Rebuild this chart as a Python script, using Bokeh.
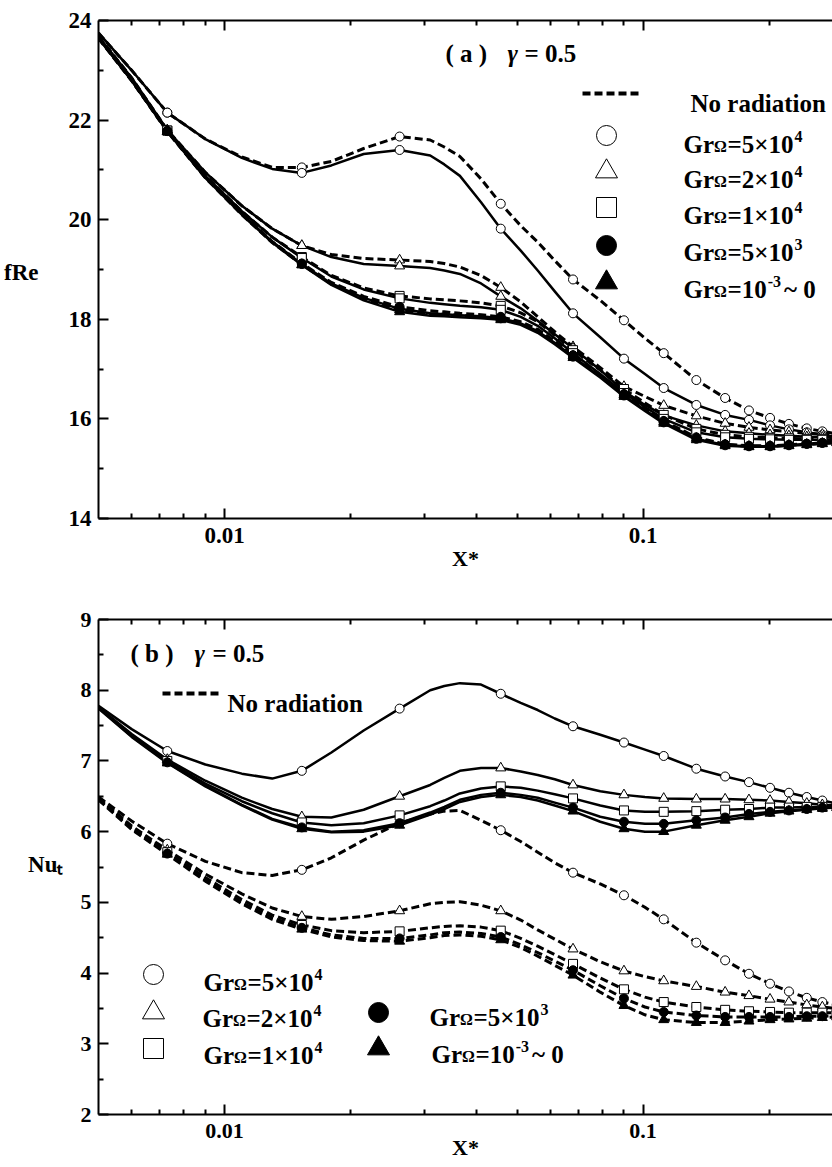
import math
from bokeh.plotting import figure
from bokeh.models import (Range1d, FixedTicker, LogAxis, LinearAxis, Label, ColumnDataSource,
                          PrintfTickFormatter)
from bokeh.layouts import column
from bokeh.embed import file_html
from bokeh.resources import INLINE

FONT = "Liberation Serif"

# ---------------- data ----------------
x_grid = [0.0050, 0.0060, 0.0073, 0.0090, 0.0110, 0.0130, 0.0153, 0.0180, 0.0215,
          0.0262, 0.0310, 0.0335, 0.0365, 0.0410, 0.0457, 0.0510, 0.0560, 0.0615,
          0.0680, 0.0790, 0.0900, 0.1010, 0.1120, 0.1340, 0.1570, 0.1790, 0.2010,
          0.2230, 0.2460, 0.2680, 0.2900]
marker_idx = [2, 6, 9, 14, 18, 20, 22, 23, 24, 25, 26, 27, 28, 29, 30]

x_ticks = [0.01, 0.1]
x_minor = [0.006, 0.007, 0.008, 0.009, 0.02, 0.03, 0.04, 0.05, 0.06, 0.07, 0.08, 0.09, 0.2]
fre_ticks = [14, 16, 18, 20, 22, 24]
fre_minor = [15, 17, 19, 21, 23]
nu_ticks = [2, 3, 4, 5, 6, 7, 8, 9]
nu_minor = [2.5, 3.5, 4.5, 5.5, 6.5, 7.5, 8.5]

# (a) fRe: with radiation (solid) / no radiation (dashed)
fre_rad_5e4 = [23.75, 23.00, 22.15, 21.62, 21.24, 21.02, 20.94, 21.09, 21.32, 21.40, 21.29, 21.11, 20.88, 20.35, 19.82, 19.38, 18.98, 18.56, 18.12, 17.64, 17.21, 16.90, 16.62, 16.28, 16.08, 15.98, 15.87, 15.79, 15.73, 15.68, 15.64]
fre_nor_5e4 = [23.75, 23.00, 22.15, 21.62, 21.26, 21.05, 21.05, 21.17, 21.43, 21.67, 21.60, 21.46, 21.27, 20.82, 20.32, 19.88, 19.55, 19.18, 18.80, 18.38, 17.98, 17.62, 17.32, 16.78, 16.42, 16.17, 16.02, 15.90, 15.81, 15.75, 15.70]
fre_rad_2e4 = [23.68, 22.85, 21.80, 20.95, 20.28, 19.82, 19.48, 19.25, 19.11, 19.07, 19.03, 18.98, 18.91, 18.72, 18.46, 18.22, 17.97, 17.70, 17.42, 16.98, 16.56, 16.28, 16.07, 15.87, 15.75, 15.71, 15.68, 15.66, 15.64, 15.63, 15.62]
fre_nor_2e4 = [23.68, 22.85, 21.80, 20.95, 20.28, 19.82, 19.48, 19.30, 19.22, 19.19, 19.16, 19.12, 19.05, 18.88, 18.64, 18.35, 18.05, 17.75, 17.45, 17.03, 16.65, 16.45, 16.27, 16.06, 15.91, 15.83, 15.78, 15.74, 15.71, 15.69, 15.68]
fre_rad_1e4 = [23.66, 22.82, 21.79, 20.88, 20.17, 19.65, 19.23, 18.86, 18.60, 18.42, 18.33, 18.30, 18.27, 18.24, 18.19, 18.05, 17.87, 17.62, 17.32, 16.90, 16.52, 16.24, 16.00, 15.73, 15.63, 15.60, 15.59, 15.58, 15.58, 15.58, 15.58]
fre_nor_1e4 = [23.66, 22.82, 21.79, 20.88, 20.17, 19.65, 19.25, 18.88, 18.63, 18.47, 18.41, 18.39, 18.37, 18.33, 18.27, 18.13, 17.95, 17.68, 17.38, 16.98, 16.60, 16.32, 16.08, 15.80, 15.68, 15.64, 15.62, 15.61, 15.60, 15.60, 15.60]
fre_rad_5e3 = [23.65, 22.80, 21.78, 20.85, 20.12, 19.56, 19.11, 18.72, 18.43, 18.21, 18.12, 18.10, 18.08, 18.06, 18.02, 17.92, 17.76, 17.53, 17.25, 16.85, 16.47, 16.18, 15.93, 15.60, 15.47, 15.45, 15.45, 15.47, 15.50, 15.52, 15.54]
fre_nor_5e3 = [23.65, 22.80, 21.78, 20.85, 20.12, 19.56, 19.12, 18.74, 18.46, 18.25, 18.17, 18.15, 18.12, 18.09, 18.05, 17.95, 17.80, 17.56, 17.28, 16.88, 16.50, 16.21, 15.96, 15.63, 15.49, 15.46, 15.46, 15.48, 15.50, 15.52, 15.54]
fre_rad_1e3 = [23.64, 22.79, 21.77, 20.84, 20.10, 19.54, 19.09, 18.69, 18.38, 18.15, 18.07, 18.06, 18.04, 18.02, 17.99, 17.89, 17.73, 17.50, 17.23, 16.83, 16.45, 16.16, 15.91, 15.58, 15.46, 15.44, 15.44, 15.46, 15.48, 15.50, 15.52]
fre_nor_1e3 = [23.64, 22.79, 21.77, 20.84, 20.10, 19.54, 19.10, 18.71, 18.41, 18.19, 18.11, 18.10, 18.08, 18.05, 18.02, 17.92, 17.77, 17.53, 17.26, 16.86, 16.48, 16.19, 15.94, 15.61, 15.48, 15.45, 15.45, 15.47, 15.49, 15.51, 15.53]

# (b) Nu_t
nu_rad_5e4 = [7.78, 7.45, 7.14, 6.95, 6.82, 6.75, 6.86, 7.12, 7.43, 7.74, 8.00, 8.06, 8.10, 8.08, 7.95, 7.82, 7.72, 7.60, 7.49, 7.37, 7.26, 7.16, 7.07, 6.89, 6.78, 6.70, 6.62, 6.55, 6.49, 6.44, 6.40]
nu_rad_2e4 = [7.76, 7.38, 7.02, 6.72, 6.48, 6.32, 6.21, 6.20, 6.31, 6.50, 6.66, 6.76, 6.86, 6.90, 6.90, 6.85, 6.80, 6.74, 6.66, 6.57, 6.52, 6.49, 6.47, 6.46, 6.46, 6.45, 6.44, 6.42, 6.40, 6.38, 6.37]
nu_rad_1e4 = [7.75, 7.36, 7.00, 6.68, 6.43, 6.26, 6.13, 6.09, 6.12, 6.23, 6.36, 6.44, 6.54, 6.61, 6.64, 6.62, 6.58, 6.53, 6.47, 6.37, 6.30, 6.28, 6.28, 6.29, 6.31, 6.32, 6.34, 6.34, 6.35, 6.35, 6.36]
nu_rad_5e3 = [7.75, 7.35, 6.98, 6.65, 6.38, 6.18, 6.06, 6.00, 6.02, 6.12, 6.27, 6.35, 6.45, 6.52, 6.55, 6.52, 6.48, 6.41, 6.34, 6.21, 6.14, 6.11, 6.11, 6.16, 6.20, 6.25, 6.28, 6.30, 6.32, 6.34, 6.35]
nu_rad_1e3 = [7.74, 7.34, 6.97, 6.64, 6.37, 6.17, 6.04, 5.99, 6.00, 6.09, 6.24, 6.32, 6.42, 6.49, 6.52, 6.49, 6.44, 6.37, 6.29, 6.14, 6.04, 6.00, 6.00, 6.09, 6.16, 6.21, 6.26, 6.29, 6.31, 6.33, 6.34]
nu_nor_5e4 = [6.49, 6.15, 5.83, 5.58, 5.42, 5.38, 5.46, 5.63, 5.88, 6.12, 6.25, 6.29, 6.30, 6.16, 6.02, 5.86, 5.71, 5.56, 5.42, 5.26, 5.10, 4.93, 4.76, 4.43, 4.18, 3.99, 3.85, 3.74, 3.65, 3.59, 3.55]
nu_nor_2e4 = [6.48, 6.08, 5.74, 5.40, 5.12, 4.92, 4.80, 4.76, 4.80, 4.88, 4.98, 5.00, 5.01, 4.96, 4.88, 4.75, 4.61, 4.48, 4.34, 4.16, 4.03, 3.95, 3.89, 3.81, 3.73, 3.68, 3.63, 3.59, 3.55, 3.52, 3.50]
nu_nor_1e4 = [6.47, 6.06, 5.71, 5.35, 5.04, 4.82, 4.68, 4.60, 4.57, 4.59, 4.64, 4.66, 4.67, 4.65, 4.60, 4.49, 4.38, 4.26, 4.13, 3.93, 3.77, 3.66, 3.59, 3.52, 3.48, 3.46, 3.45, 3.44, 3.44, 3.44, 3.44]
nu_nor_5e3 = [6.46, 6.04, 5.69, 5.32, 5.00, 4.78, 4.64, 4.54, 4.49, 4.49, 4.54, 4.57, 4.58, 4.56, 4.51, 4.40, 4.29, 4.17, 4.04, 3.82, 3.64, 3.52, 3.45, 3.40, 3.38, 3.38, 3.38, 3.38, 3.39, 3.39, 3.40]
nu_nor_1e3 = [6.45, 6.03, 5.68, 5.30, 4.98, 4.76, 4.62, 4.51, 4.46, 4.45, 4.50, 4.53, 4.54, 4.52, 4.47, 4.36, 4.24, 4.11, 3.97, 3.73, 3.54, 3.41, 3.34, 3.30, 3.30, 3.32, 3.34, 3.35, 3.36, 3.37, 3.38]

# case styles: (marker, filled)
case_style = {
    "5e4": ("circle", False),
    "2e4": ("triangle", False),
    "1e4": ("square", False),
    "5e3": ("circle", True),
    "1e-3": ("triangle", True),
}
fre_series = {"5e4": (fre_rad_5e4, fre_nor_5e4), "2e4": (fre_rad_2e4, fre_nor_2e4),
              "1e4": (fre_rad_1e4, fre_nor_1e4), "5e3": (fre_rad_5e3, fre_nor_5e3),
              "1e-3": (fre_rad_1e3, fre_nor_1e3)}
nu_series = {"5e4": (nu_rad_5e4, nu_nor_5e4), "2e4": (nu_rad_2e4, nu_nor_2e4),
             "1e4": (nu_rad_1e4, nu_nor_1e4), "5e3": (nu_rad_5e3, nu_nor_5e3),
             "1e-3": (nu_rad_1e3, nu_nor_1e3)}

# ---------------- layout helpers ----------------
X_LO, X_HI = 0.005, 0.2834
FRAME_L, DEC_PX = 98, 418.6
W = 832


def px_x(px):
    return 10 ** (math.log10(X_LO) + (px - FRAME_L) / DEC_PX)


def style_axis(ax):
    ax.axis_line_width = 2
    ax.axis_line_color = "black"
    ax.major_tick_in = 10
    ax.major_tick_out = 0
    ax.minor_tick_in = 5
    ax.minor_tick_out = 0
    ax.major_tick_line_width = 2
    ax.minor_tick_line_width = 2
    ax.major_tick_line_color = "black"
    ax.minor_tick_line_color = "black"
    ax.major_label_text_font = FONT
    ax.major_label_text_font_style = "bold"
    ax.major_label_text_color = "black"


def make_fig(height, top, bottom, ylo, yhi, yticks, yminor, tick_size,
             xlabel_standoff, ylabel_text, ylabel_pos, ylabel_standoff):
    p = figure(width=W, height=height, x_axis_type="log",
               x_range=Range1d(X_LO, X_HI), y_range=Range1d(ylo, yhi),
               output_backend="svg", toolbar_location=None,
               min_border_left=FRAME_L, min_border_right=0,
               min_border_top=top, min_border_bottom=bottom)
    p.outline_line_color = None
    p.xgrid.visible = False
    p.ygrid.visible = False
    p.background_fill_color = "white"
    p.border_fill_color = "white"
    xa = p.xaxis[0]
    ya = p.yaxis[0]
    xa.ticker = FixedTicker(ticks=x_ticks, minor_ticks=x_minor)
    xa.formatter = PrintfTickFormatter(format="%g")
    xa.major_label_overrides = {0.01: "0.01", 0.1: "0.1"}
    xa.major_label_standoff = 9
    ya.ticker = FixedTicker(ticks=yticks, minor_ticks=yminor)
    ya.major_label_standoff = 7
    style_axis(xa)
    style_axis(ya)
    xa.major_label_text_font_size = tick_size
    ya.major_label_text_font_size = tick_size
    # x-axis title
    xa.axis_label = "X*"
    xa.axis_label_text_font = FONT
    xa.axis_label_text_font_style = "bold"
    xa.axis_label_text_font_size = "22px"
    xa.axis_label_text_color = "black"
    xa.axis_label_standoff = xlabel_standoff
    # top axis (ticks only)
    top_axis = LogAxis(ticker=FixedTicker(ticks=x_ticks, minor_ticks=x_minor),
                       formatter=PrintfTickFormatter(format="%g"))
    style_axis(top_axis)
    top_axis.major_label_text_font_size = "8px"
    top_axis.major_label_text_alpha = 0
    top_axis.major_label_standoff = 0
    p.add_layout(top_axis, "above")
    # y-axis title, written horizontally as the label of a bare outer axis
    name_axis = LinearAxis(ticker=FixedTicker(ticks=[ylabel_pos], minor_ticks=[]),
                           major_label_overrides={ylabel_pos: ylabel_text})
    name_axis.axis_line_color = None
    name_axis.major_tick_line_color = None
    name_axis.minor_tick_line_color = None
    name_axis.major_label_text_font = FONT
    name_axis.major_label_text_font_style = "bold"
    name_axis.major_label_text_font_size = "23px"
    name_axis.major_label_text_color = "black"
    name_axis.major_label_standoff = ylabel_standoff
    p.add_layout(name_axis, "left")
    return p


def draw_series(p, series):
    for key, (rad, nor) in series.items():
        p.line(x_grid, nor, line_color="black", line_width=3, line_dash="8 4", line_join="round")
        p.line(x_grid, rad, line_color="black", line_width=2.5, line_join="round")
    for key, (rad, nor) in series.items():
        mk, filled = case_style[key]
        size = 10 if mk == "triangle" else 9
        for ys in (nor, rad):
            src = ColumnDataSource(dict(x=[x_grid[i] for i in marker_idx],
                                        y=[ys[i] for i in marker_idx]))
            p.scatter("x", "y", source=src, marker=mk, size=size,
                      fill_color="black" if filled else "white",
                      line_color="black", line_width=1)


def text(p, px, ybase, s, size, style="bold"):
    p.add_layout(Label(x=px_x(px), y=ybase, text=s, text_font=FONT, text_font_style=style,
                       text_font_size=f"{size}px", text_baseline="alphabetic",
                       text_align="left", text_color="black"))


# Times/Liberation Serif Bold advance widths (em)
ADV = {"G": 0.778, "r": 0.444, "=": 0.570, "×": 0.570, "0": 0.5, "1": 0.5, "2": 0.5,
       "3": 0.5, "4": 0.5, "5": 0.5, "-": 0.333, "~": 0.520, " ": 0.25, "Ω": 0.78}


def width(s, size):
    return sum(ADV.get(c, 0.5) for c in s) * size


def gr_label(p, ymap, px, base_py, mant, exp, tail=""):
    big, small = 25, 16
    yb = ymap(base_py)
    text(p, px, yb, "Gr", big)
    x = px + width("Gr", big)
    text(p, x, ymap(base_py + 2), "Ω", small)
    x += width("Ω", small) + 1
    s = "=" + mant
    text(p, x, yb, s, big)
    x += width(s, big) + 1
    text(p, x, ymap(base_py - 8), exp, small)
    x += width(exp, small) + 3
    if tail:
        text(p, x, yb, tail, big)


def legend_markers(p, ymap, items):
    for (mk, filled, px, py) in items:
        src = ColumnDataSource(dict(x=[px_x(px)], y=[ymap(py)]))
        p.scatter("x", "y", source=src, marker=mk, size=20 if mk != "triangle" else 22,
                  fill_color="black" if filled else "white", line_color="black", line_width=1)


def dash_sample(p, ymap, x0, x1, py):
    p.line([px_x(x0), px_x(x1)], [ymap(py), ymap(py)], line_color="black",
           line_width=4, line_dash="8 4")

# ---------------- panel (a) ----------------
p1 = make_fig(590, 20, 72, 14, 24, fre_ticks, fre_minor, "23px",
              xlabel_standoff=0, ylabel_text="fRe", ylabel_pos=18.93, ylabel_standoff=21)
y1 = lambda py: 24 - (py - 20) * 10.0 / 498.0
draw_series(p1, fre_series)

text(p1, 445, y1(53), "( a )", 25)
text(p1, 507, y1(53), "γ", 25, "bold italic")
text(p1, 524, y1(53), "= 0.5", 25)

dash_sample(p1, y1, 582, 640, 93)
text(p1, 690, y1(103), "No radiation", 25)
legend_markers(p1, y1, [("circle", False, 606, 135), ("triangle", False, 606, 171),
                        ("square", False, 606, 207), ("circle", True, 606, 245),
                        ("triangle", True, 606, 282)])
gr_label(p1, y1, 683, 144, "5×10", "4")
gr_label(p1, y1, 683, 179, "2×10", "4")
gr_label(p1, y1, 683, 215, "1×10", "4")
gr_label(p1, y1, 683, 252, "5×10", "3")
gr_label(p1, y1, 683, 289, "10", "-3", "~ 0")

# ---------------- panel (b) ----------------
p2 = make_fig(577, 29, 53, 2, 9, nu_ticks, nu_minor, "22px",
              xlabel_standoff=-6, ylabel_text="Nuₜ", ylabel_pos=5.53, ylabel_standoff=9)
y2 = lambda py: 9 - (py - 619) * 7.0 / 495.0
draw_series(p2, nu_series)

text(p2, 130, y2(653), "( b )", 25)
text(p2, 194, y2(653), "γ", 25, "bold italic")
text(p2, 212, y2(653), "= 0.5", 25)

dash_sample(p2, y2, 162, 220, 693)
text(p2, 227, y2(703), "No radiation", 25)
legend_markers(p2, y2, [("circle", False, 153, 974), ("triangle", False, 153, 1012),
                        ("square", False, 153, 1048), ("circle", True, 378, 1012),
                        ("triangle", True, 378, 1048)])
gr_label(p2, y2, 203, 982, "5×10", "4")
gr_label(p2, y2, 202, 1018, "2×10", "4")
gr_label(p2, y2, 203, 1055, "1×10", "4")
gr_label(p2, y2, 429, 1017, "5×10", "3")
gr_label(p2, y2, 431, 1054, "10", "-3", "~ 0")

layout = column(p1, p2, spacing=0)
open("out.html", "w").write(file_html(layout, INLINE))
